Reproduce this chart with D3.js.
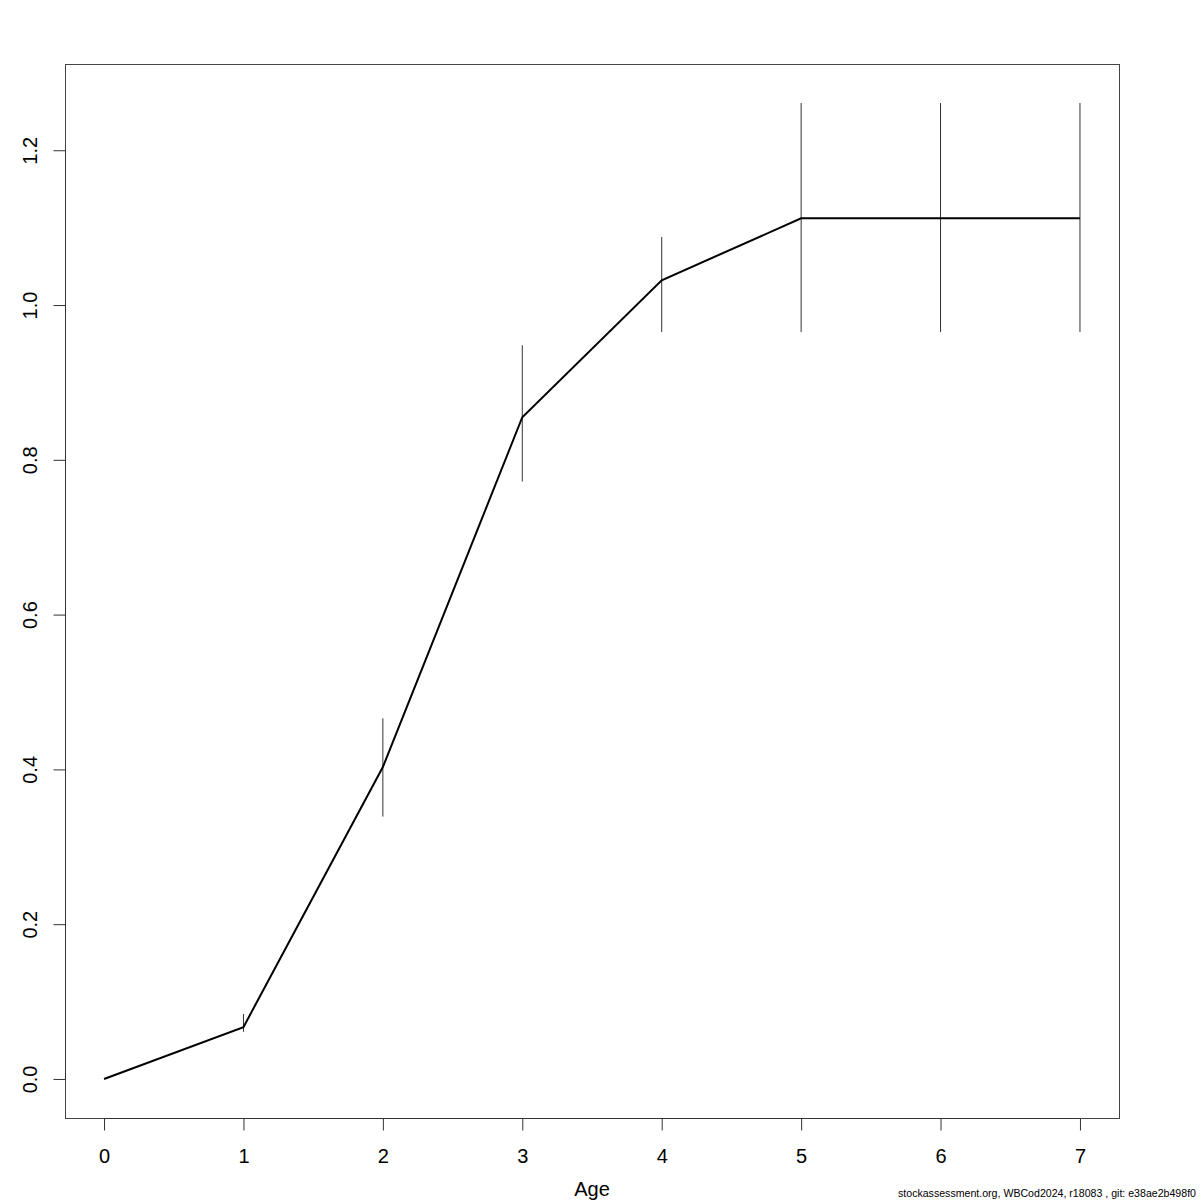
<!DOCTYPE html>
<html>
<head>
<meta charset="utf-8">
<script src="https://cdn.jsdelivr.net/npm/d3@7"></script>
<style>
  html, body { margin: 0; padding: 0; background: #fff; }
  svg { display: block; }
  text { font-family: "Liberation Sans", Arial, Helvetica, sans-serif; }
</style>
</head>
<body>
<svg id="chart" width="1200" height="1200"></svg>
<script>
const ages = [0, 1, 2, 3, 4, 5, 6, 7];
const selectivity = [0, 0.067, 0.403, 0.855, 1.032, 1.112, 1.112, 1.112];
const lower = [null, 0.061, 0.339, 0.772, 0.965, 0.965, 0.965, 0.965];
const upper = [null, 0.084, 0.466, 0.948, 1.088, 1.261, 1.261, 1.261];
const xTicks = [0, 1, 2, 3, 4, 5, 6, 7];
const yTicks = [0, 0.2, 0.4, 0.6, 0.8, 1.0, 1.2];
const xTitle = "Age";
const footer = "stockassessment.org, WBCod2024, r18083 , git: e38ae2b498f0";

(function () {
const svg = d3.select("#chart");
const mLeft = 65, mRight = 1119, mTop = 64, mBottom = 1118;

// R style 4% extension
const xmin = d3.min(ages), xmax = d3.max(ages);
const allY = selectivity.concat(lower.filter(v => v != null), upper.filter(v => v != null));
const ymin = d3.min(allY), ymax = d3.max(allY);
const xr = (xmax - xmin) * 0.04, yr = (ymax - ymin) * 0.04;

const x = d3.scaleLinear().domain([xmin - xr, xmax + xr]).range([mLeft, mRight]);
const y = d3.scaleLinear().domain([ymin - yr, ymax + yr]).range([mBottom, mTop]);

// box
svg.append("rect")
  .attr("x", mLeft + 0.5).attr("y", mTop + 0.5)
  .attr("width", mRight - mLeft).attr("height", mBottom - mTop)
  .attr("fill", "none").attr("stroke", "#444").attr("stroke-width", 1);

// error bars
const ebData = ages.map((a, i) => ({a, lo: lower[i], hi: upper[i]})).filter(d => d.lo != null);
svg.append("g").selectAll("line").data(ebData).join("line")
  .attr("x1", d => x(d.a)).attr("x2", d => x(d.a))
  .attr("y1", d => y(d.lo)).attr("y2", d => y(d.hi))
  .attr("stroke", "#333").attr("stroke-width", 1);

// line
const line = d3.line().x((d, i) => x(ages[i])).y(d => y(d));
svg.append("path").datum(selectivity)
  .attr("d", line).attr("fill", "none")
  .attr("stroke", "#000").attr("stroke-width", 2);

// x axis
const xAxis = d3.axisBottom(x).tickValues(xTicks).tickSize(12).tickPadding(18).tickFormat(d3.format("d"));
const gx = svg.append("g").attr("transform", `translate(0,${mBottom + 0.5})`).call(xAxis);
gx.select(".domain").attr("d", `M${x(xTicks[0])},0H${x(xTicks[xTicks.length-1])}`).attr("stroke", "#333");
gx.selectAll(".tick line").attr("stroke", "#333");
gx.selectAll(".tick text").attr("font-size", 20).attr("fill", "#000")
  .attr("font-family", "Liberation Sans, Arial, sans-serif");

// y axis
const yAxis = d3.axisLeft(y).tickValues(yTicks).tickSize(12).tickPadding(0).tickFormat(d3.format(".1f"));
const gy = svg.append("g").attr("transform", `translate(${mLeft + 0.5},0)`).call(yAxis);
gy.select(".domain").attr("d", `M0,${y(yTicks[0])}V${y(yTicks[yTicks.length-1])}`).attr("stroke", "#333");
gy.selectAll(".tick line").attr("stroke", "#333");
gy.selectAll(".tick text").remove();
gy.selectAll(".tick").append("text")
  .attr("transform", "translate(-36,0) rotate(-90)")
  .attr("text-anchor", "middle")
  .attr("dy", "0.35em")
  .attr("font-size", 20).attr("fill", "#000")
  .attr("font-family", "Liberation Sans, Arial, sans-serif")
  .text(d => d3.format(".1f")(d));

// x title
svg.append("text").attr("x", 592).attr("y", 1196)
  .attr("text-anchor", "middle").attr("font-size", 20).text(xTitle);

// footer
svg.append("text").attr("x", 1196).attr("y", 1197)
  .attr("text-anchor", "end").attr("font-size", 10.6).text(footer);
})();
</script>
</body>
</html>
